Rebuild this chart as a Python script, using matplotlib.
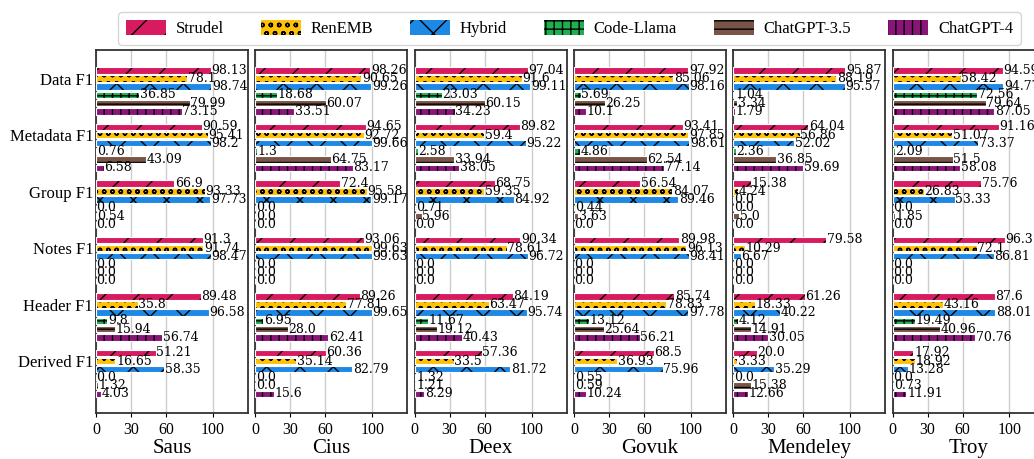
import matplotlib
matplotlib.use("Agg")
import matplotlib.pyplot as plt
import numpy as np

# Labels
models = ["Strudel", "RenEMB", "Hybrid", "Code-Llama", "ChatGPT-3.5", "ChatGPT-4"]
categories = ["Data F1", "Metadata F1", "Group F1", "Notes F1", "Header F1", "Derived F1"]
xticks = [0, 30, 60, 100]

# F1 scores per dataset, one row per category, columns follow `models`
saus = [
    [98.13, 78.1, 98.74, 36.85, 79.99, 73.15],
    [90.59, 95.41, 98.2, 0.76, 43.09, 6.58],
    [66.9, 93.33, 97.73, 0.0, 0.54, 0.0],
    [91.3, 91.74, 98.47, 0.0, 0.0, 0.0],
    [89.48, 35.8, 96.58, 9.8, 15.94, 56.74],
    [51.21, 16.65, 58.35, 0.0, 1.32, 4.03],
]
cius = [
    [98.26, 90.65, 99.26, 18.68, 60.07, 33.51],
    [94.65, 92.72, 99.66, 1.3, 64.75, 83.17],
    [72.4, 95.58, 99.17, 0.0, 0.0, 0.0],
    [93.06, 99.63, 99.63, 0.0, 0.0, 0.0],
    [89.26, 77.81, 99.65, 6.95, 28.0, 62.41],
    [60.36, 35.14, 82.79, 0.0, 0.0, 15.6],
]
deex = [
    [97.04, 91.6, 99.11, 23.03, 60.15, 34.23],
    [89.82, 59.4, 95.22, 2.58, 33.94, 38.05],
    [68.75, 59.35, 84.92, 0.71, 5.96, 0.0],
    [90.34, 78.61, 96.72, 0.0, 0.0, 0.0],
    [84.19, 63.47, 95.74, 11.67, 19.12, 40.43],
    [57.36, 33.5, 81.72, 1.32, 1.21, 8.29],
]
govuk = [
    [97.92, 85.06, 98.16, 5.69, 26.25, 10.1],
    [93.41, 97.85, 98.61, 4.86, 62.54, 77.14],
    [56.54, 84.07, 89.46, 0.44, 3.63, 0.0],
    [89.98, 96.13, 98.41, 0.0, 0.0, 0.0],
    [85.74, 78.83, 97.78, 13.12, 25.64, 56.21],
    [68.5, 36.93, 75.96, 0.55, 0.59, 10.24],
]
mendeley = [
    [95.87, 88.19, 95.57, 1.04, 3.34, 1.79],
    [64.04, 56.86, 52.02, 2.36, 36.85, 59.69],
    [15.38, 4.24, 0.0, 0.0, 5.0, 0.0],
    [79.58, 10.29, 6.67, 0.0, 0.0, 0.0],
    [61.26, 18.33, 40.22, 4.12, 14.91, 30.05],
    [20.0, 3.33, 35.29, 0.0, 15.38, 12.66],
]
troy = [
    [94.59, 58.42, 94.77, 72.56, 79.64, 87.05],
    [91.16, 51.07, 73.37, 2.09, 51.5, 58.08],
    [75.76, 26.83, 53.33, 0.0, 1.85, 0.0],
    [96.3, 72.1, 86.81, 0.0, 0.0, 0.0],
    [87.6, 43.16, 88.01, 19.49, 40.96, 70.76],
    [17.92, 18.92, 13.28, 0.0, 0.73, 11.91],
]
datasets = [("Saus", saus), ("Cius", cius), ("Deex", deex),
            ("Govuk", govuk), ("Mendeley", mendeley), ("Troy", troy)]

colors = ["#D81B60", "#FFC107", "#1E88E5", "#1FAF50", "#795548", "#8B1478"]
hatches = ["/", "oo", "x", "++", "--", "||"]

plt.rcParams["font.family"] = ["Liberation Serif", "DejaVu Serif"]
plt.rcParams["hatch.linewidth"] = 1.0

fig = plt.figure(figsize=(10.34, 4.59), dpi=100)
W, H = 1034.0, 459.0
ax_w = 152
ax_top, ax_bot = 50, 413

w = 0.145  # bar pitch within a group
y_groups = np.arange(len(categories))

for k, (name, table) in enumerate(datasets):
    left = 96 + k * 159.3
    ax = fig.add_axes([left / W, 1 - ax_bot / H, ax_w / W, (ax_bot - ax_top) / H])
    vals = np.array(table)
    for j, model in enumerate(models):
        ys = y_groups + j * w
        ax.barh(ys, vals[:, j], height=w * 0.8, color=colors[j], hatch=hatches[j],
                edgecolor="black", linewidth=0, zorder=2, label=model)
        ax.barh(ys, vals[:, j], height=w * 0.8, fill=False,
                edgecolor="white", linewidth=0.8, zorder=3)
        for y, v in zip(ys, vals[:, j]):
            ax.text(v + 0.5, y, str(v), va="center", ha="left", fontsize=9,
                    family="DejaVu Serif", zorder=4)
    ax.set_xlim(0, 130)
    ax.set_ylim(5 + 5 * w + 0.34, -0.36)
    ax.set_xticks(xticks)
    ax.tick_params(axis="x", labelsize=11.5, length=3)
    ax.xaxis.grid(True, color="#cccccc", linewidth=1, zorder=0)
    ax.set_axisbelow(True)
    ax.set_xlabel(name, fontsize=15, labelpad=1)
    for s in ax.spines.values():
        s.set_color("#333333")
        s.set_linewidth(1.3)
    if k == 0:
        ax.set_yticks(y_groups + w)
        ax.set_yticklabels(categories, fontsize=12)
        ax.tick_params(axis="y", length=0, pad=2)
        handles, labels = ax.get_legend_handles_labels()
    else:
        ax.set_yticks([])

fig.legend(handles, labels, loc="upper left", bbox_to_anchor=(110 / W, 1 - 4 / H),
           ncol=6, fontsize=12, frameon=True, handlelength=2.4, handleheight=1.0,
           columnspacing=2.2, handletextpad=0.6, borderpad=0.45,
           edgecolor="#cccccc", fancybox=True)

fig.savefig("out.png", dpi=100)
